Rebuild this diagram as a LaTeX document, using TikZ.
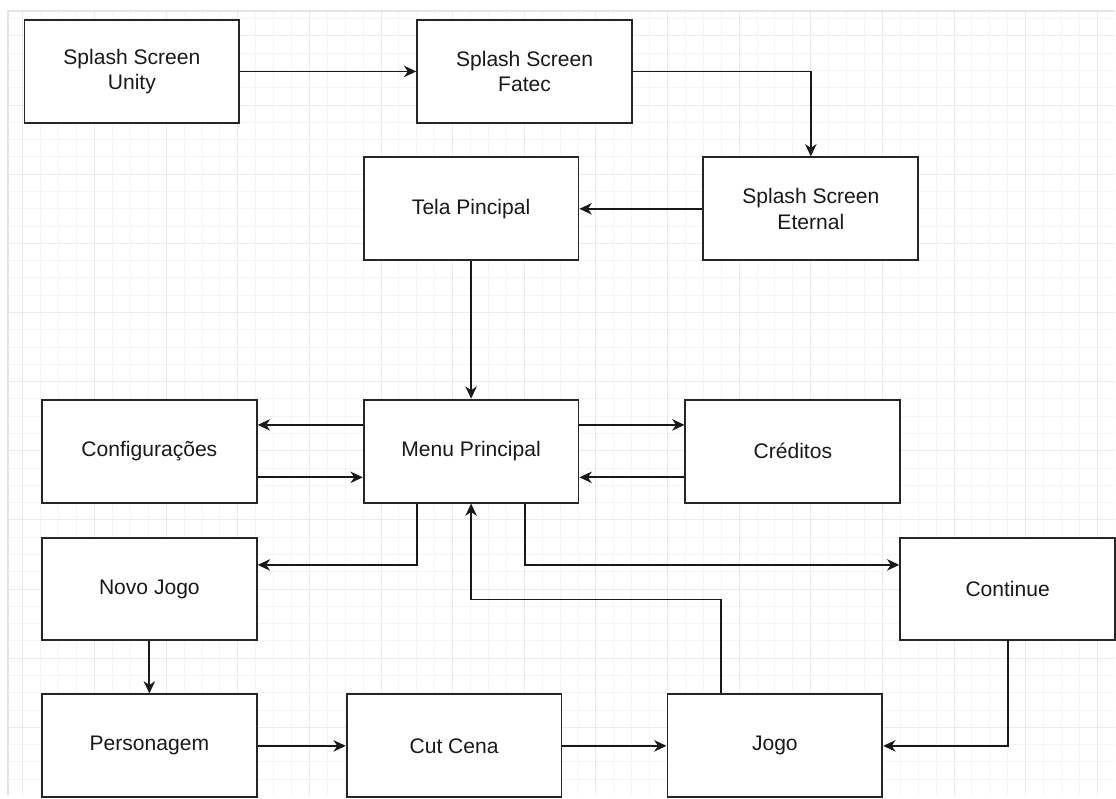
\documentclass[tikz,border=0pt]{standalone}
\usepackage{fontspec}
\setmainfont{Liberation Sans}
\usetikzlibrary{arrows.meta,calc,positioning}

\begin{document}
\begin{tikzpicture}
    [x=0.02cm,y=-0.02cm,
    tela/.style={draw=black!85,line width=1.1pt,fill=white,minimum width=4.3cm,minimum height=2.06cm,
        inner sep=0pt,align=center,font=\fontsize{12}{14.6}\selectfont,text=black!90},
    flow/.style={draw=black!90,line width=1pt,-{Stealth[length=7pt,width=6.5pt,inset=2.2pt]}},
    minor/.style={black!4,line width=0.57pt},
    major/.style={black!8,line width=0.57pt}]

    % fundo com grade
    \fill[white] (0,0) rectangle (1116,796);
    \begin{scope}
        \clip (8,11) rectangle (1116,796);
        \foreach \i in {0,...,61}
            \draw[minor] ({23+\i*17.92},11) -- ({23+\i*17.92},796);
        \foreach \i in {0,...,45}
            \draw[minor] (8,{18.7+\i*17.3}) -- (1116,{18.7+\i*17.3});
        \foreach \i in {0,...,15}
            \draw[major] ({23+\i*71.68},11) -- ({23+\i*71.68},796);
        \foreach \i in {0,...,11}
            \draw[major] (8,{36+\i*69.2}) -- (1116,{36+\i*69.2});
    \end{scope}
    \draw[black!10,line width=0.8pt] (8,796) -- (8,11) -- (1116,11);

    % telas
    \node[tela] (unity) at (132,71.5) {Splash Screen\\Unity};
    \node[tela] (fatec) at (525,71.5) {Splash Screen\\Fatec};
    \node[tela] (eternal) at (811.5,209) {Splash Screen\\Eternal};
    \node[tela] (tela) at (471.5,209) {Tela Pincipal};
    \node[tela] (config) at (149.5,451.5) {Configurações};
    \node[tela] (menu) at (471.5,451.5) {Menu Principal};
    \node[tela] (creditos) at (793.5,451.5) {Créditos};
    \node[tela] (novo) at (149.5,589.5) {Novo Jogo};
    \node[tela] (continue) at (1008.5,589.5) {Continue};
    \node[tela] (personagem) at (149.5,746.5) {Personagem};
    \node[tela] (cutcena) at (454.5,746.5) {Cut Cena};
    \node[tela] (jogo) at (775.5,746.5) {Jogo};

    % pontos de saida/entrada
    \coordinate (m1) at ($(menu.north west)!0.25!(menu.south west)$);
    \coordinate (m2) at ($(menu.north west)!0.75!(menu.south west)$);
    \coordinate (m3) at ($(menu.north east)!0.25!(menu.south east)$);
    \coordinate (m4) at ($(menu.north east)!0.75!(menu.south east)$);
    \coordinate (s1) at ($(menu.south west)!0.25!(menu.south east)$);
    \coordinate (s2) at ($(menu.south west)!0.75!(menu.south east)$);
    \coordinate (n1) at ($(novo.north east)!0.27!(novo.south east)$);
    \coordinate (c1) at ($(continue.north west)!0.27!(continue.south west)$);
    \coordinate (j1) at ($(jogo.north west)!0.25!(jogo.north east)$);
    \coordinate (volta) at (0,600);

    \draw[flow] (unity) -- (fatec);
    \draw[flow] (fatec) -| (eternal);
    \draw[flow] (eternal) -- (tela);
    \draw[flow] (tela) -- (menu);
    \draw[flow] (m1) -- (m1 -| config.east);
    \draw[flow] (m2 -| config.east) -- (m2);
    \draw[flow] (m3) -- (m3 -| creditos.west);
    \draw[flow] (m4 -| creditos.west) -- (m4);
    \draw[flow] (s1) |- (n1);
    \draw[flow] (s2) |- (c1);
    \draw[flow] (j1) |- (volta -| menu.south) -- (menu.south);
    \draw[flow] (continue) |- (jogo);
    \draw[flow] (novo) -- (personagem);
    \draw[flow] (personagem) -- (cutcena);
    \draw[flow] (cutcena) -- (jogo);

    \useasboundingbox (0,0) rectangle (1116,796);
\end{tikzpicture}
\end{document}
